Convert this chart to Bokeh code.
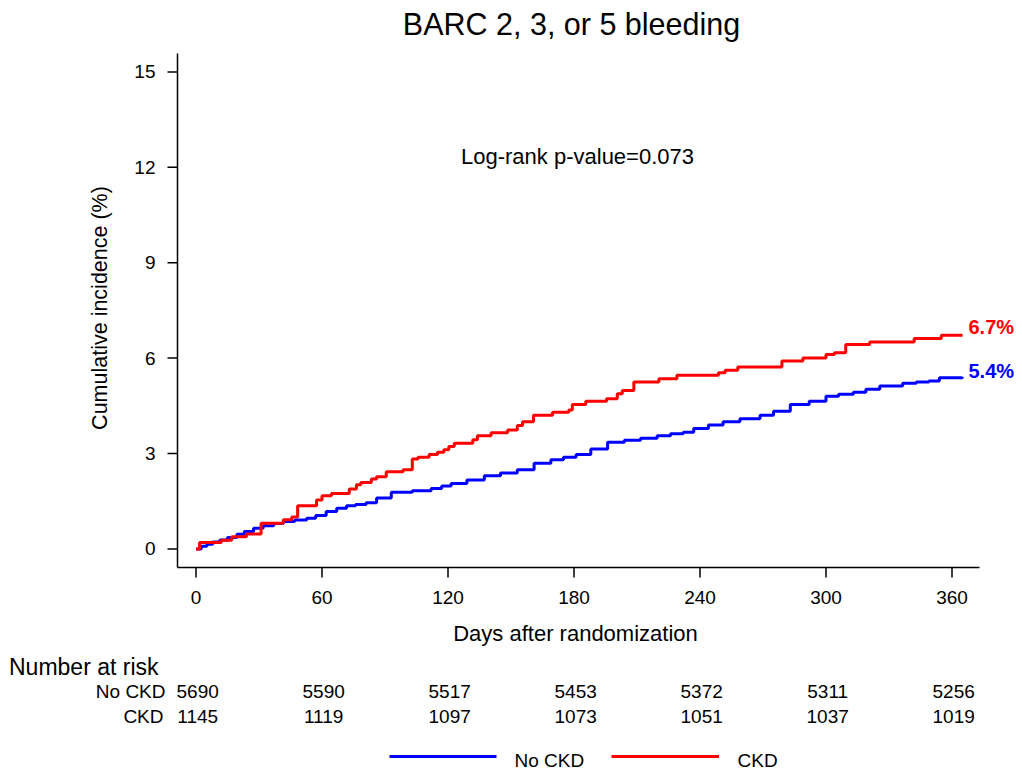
import math
from bokeh.plotting import figure
from bokeh.models import Range1d
from bokeh.core.properties import value
from bokeh.embed import file_html
from bokeh.resources import INLINE

# ---------------- data ----------------
TITLE = "BARC 2, 3, or 5 bleeding"
PVALUE_TEXT = "Log-rank p-value=0.073"
X_LABEL = "Days after randomization"
Y_LABEL = "Cumulative incidence (%)"
X_TICKS = [0, 60, 120, 180, 240, 300, 360]
Y_TICKS = [0, 3, 6, 9, 12, 15]

groups = ["No CKD", "CKD"]
colors = ["#0000FF", "#FF0000"]

# CKD (red) cumulative incidence, step points (day, %)
ckd_days = [0, 1.7, 12, 17, 24, 31, 41.6, 45.6, 48.4, 57.4, 60, 64.5, 73, 76.4, 78.5,
            83.5, 86, 90.6, 98.6, 103, 105.7, 111, 115, 118, 120.4, 123, 131.8, 134,
            140.5, 148.4, 153, 155.5, 160.7, 169.8, 177.5, 179.2, 185.6, 195.5, 200.6,
            203, 208.5, 220.4, 229, 248.8, 252, 258, 279, 289, 300, 304, 309.4, 320.8,
            342, 354.9, 365]
ckd_vals = [0, 0.20, 0.27, 0.38, 0.47, 0.81, 0.92, 1.00, 1.36, 1.54, 1.67, 1.74, 1.88,
            2.02, 2.09, 2.20, 2.27, 2.43, 2.49, 2.83, 2.88, 2.97, 3.04, 3.12, 3.22, 3.32,
            3.43, 3.56, 3.65, 3.74, 3.88, 4.00, 4.20, 4.30, 4.37, 4.54, 4.64, 4.72, 4.88,
            4.98, 5.25, 5.35, 5.46, 5.54, 5.62, 5.72, 5.91, 6.00, 6.11, 6.17, 6.43, 6.51,
            6.62, 6.72, 6.72]

# No CKD (blue) cumulative incidence, step points (day, %)
nockd_days = [0, 2.5, 5.2, 8, 11.4, 15, 19.5, 23, 27.4, 32, 37, 41.6, 47, 52.7, 57, 62,
              67, 71.7, 76, 81, 86, 93, 103, 112, 117, 121.5, 129, 137.3, 145, 153, 161,
              169, 175, 181, 188, 196, 204, 211.7, 219.6, 226, 232, 237, 244, 251, 259,
              268.6, 275, 283, 292, 300, 306, 313, 319, 325.6, 336.5, 343, 349, 354, 365]
nockd_vals = [0, 0.08, 0.15, 0.22, 0.28, 0.36, 0.46, 0.55, 0.65, 0.73, 0.80, 0.86, 0.91,
              0.96, 1.05, 1.18, 1.28, 1.36, 1.40, 1.45, 1.60, 1.78, 1.83, 1.90, 1.98,
              2.06, 2.17, 2.30, 2.39, 2.49, 2.69, 2.80, 2.88, 2.97, 3.14, 3.35, 3.42,
              3.48, 3.56, 3.62, 3.67, 3.79, 3.90, 4.00, 4.09, 4.20, 4.33, 4.54, 4.64,
              4.80, 4.86, 4.93, 5.02, 5.12, 5.21, 5.25, 5.28, 5.38, 5.40]

end_labels = ["5.4%", "6.7%"]

risk_days = [0, 60, 120, 180, 240, 300, 360]
risk_nockd = [5690, 5590, 5517, 5453, 5372, 5311, 5256]
risk_ckd = [1145, 1119, 1097, 1073, 1051, 1037, 1019]

# ---------------- layout (page pixels) ----------------
FONT = "Liberation Sans"
W, H = 1022, 775
AX_L, AX_R, AX_T, AX_B = 177, 979, 53, 567   # axis lines
TICK = 10
X0PX, KX = 195.5, 2.1        # px of day 0, px per day
Y0PX, KY = 548.4, 31.8       # px of 0 %, px per %


def dx(sx):
    return (sx - X0PX) / KX


def dy(sy):
    return (Y0PX - sy) / KY


p = figure(width=W, height=H, output_backend="svg", toolbar_location=None,
           x_range=Range1d(dx(0), dx(W)), y_range=Range1d(dy(H), dy(0)),
           x_axis_location=None, y_axis_location=None,
           min_border_left=0, min_border_right=0, min_border_top=0,
           min_border_bottom=0, title=None)
p.outline_line_color = None
p.grid.visible = False


def txt(xs, ys, texts, size, align="left", color="black", style="normal", angle=0.0):
    p.text(x=xs, y=ys, text=texts, text_font=value(FONT), text_font_size=value(size),
           text_color=color, text_font_style=style, text_align=align,
           text_baseline="middle", angle=angle)


# ---- axes (drawn in data units) ----
x_ax0, x_ax1 = dx(AX_L), dx(AX_R)
y_ax0, y_ax1 = dy(AX_B), dy(AX_T)
p.segment(x0=[x_ax0, x_ax0], y0=[y_ax0, y_ax0], x1=[x_ax1, x_ax0], y1=[y_ax0, y_ax1],
          line_color="black", line_width=1.5)
p.segment(x0=X_TICKS, y0=[y_ax0] * len(X_TICKS), x1=X_TICKS,
          y1=[y_ax0 - TICK / KY] * len(X_TICKS), line_color="black", line_width=1.5)
p.segment(x0=[x_ax0] * len(Y_TICKS), y0=Y_TICKS, x1=[x_ax0 - TICK / KX] * len(Y_TICKS),
          y1=Y_TICKS, line_color="black", line_width=1.5)
txt(X_TICKS, [dy(597.4)] * len(X_TICKS), [str(t) for t in X_TICKS], "19px", align="center")
txt([dx(155)] * len(Y_TICKS), Y_TICKS, [str(t) for t in Y_TICKS], "19px", align="right")
txt([dx(99.5)], [dy(307.5)], [Y_LABEL], "21.5px", align="center", angle=math.pi / 2)
txt([dx(575)], [dy(633)], [X_LABEL], "22px", align="center")

# ---- curves ----
p.step(nockd_days, nockd_vals, mode="after", line_color=colors[0], line_width=3)
p.step(ckd_days, ckd_vals, mode="after", line_color=colors[1], line_width=3)

# ---- texts inside the plot ----
txt([dx(571)], [dy(23.3)], [TITLE], "30.5px", align="center")
txt([dx(577)], [dy(155.8)], [PVALUE_TEXT], "22px", align="center")
txt([dx(968)], [dy(326.2)], [end_labels[1]], "20px", color=colors[1], style="bold")
txt([dx(968)], [dy(370.5)], [end_labels[0]], "20px", color=colors[0], style="bold")

# ---- number at risk ----
txt([dx(8.5)], [dy(666)], ["Number at risk"], "23px")
txt([dx(165), dx(163)], [dy(690.7), dy(715.8)], groups, "19px", align="right")
txt([d + 0.8 for d in risk_days], [dy(690.7)] * len(risk_days),
    [str(n) for n in risk_nockd], "19px", align="center")
txt([d + 0.8 for d in risk_days], [dy(715.8)] * len(risk_days),
    [str(n) for n in risk_ckd], "19px", align="center")

# ---- legend ----
for (x0, x1, tx), g, c in zip([(389, 496, 514), (611, 718.5, 737)], groups, colors):
    p.line([dx(x0), dx(x1)], [dy(756), dy(756)], line_color=c, line_width=3)
    txt([dx(tx)], [dy(760.4)], [g], "19px")

open("out.html", "w").write(file_html(p, INLINE))
